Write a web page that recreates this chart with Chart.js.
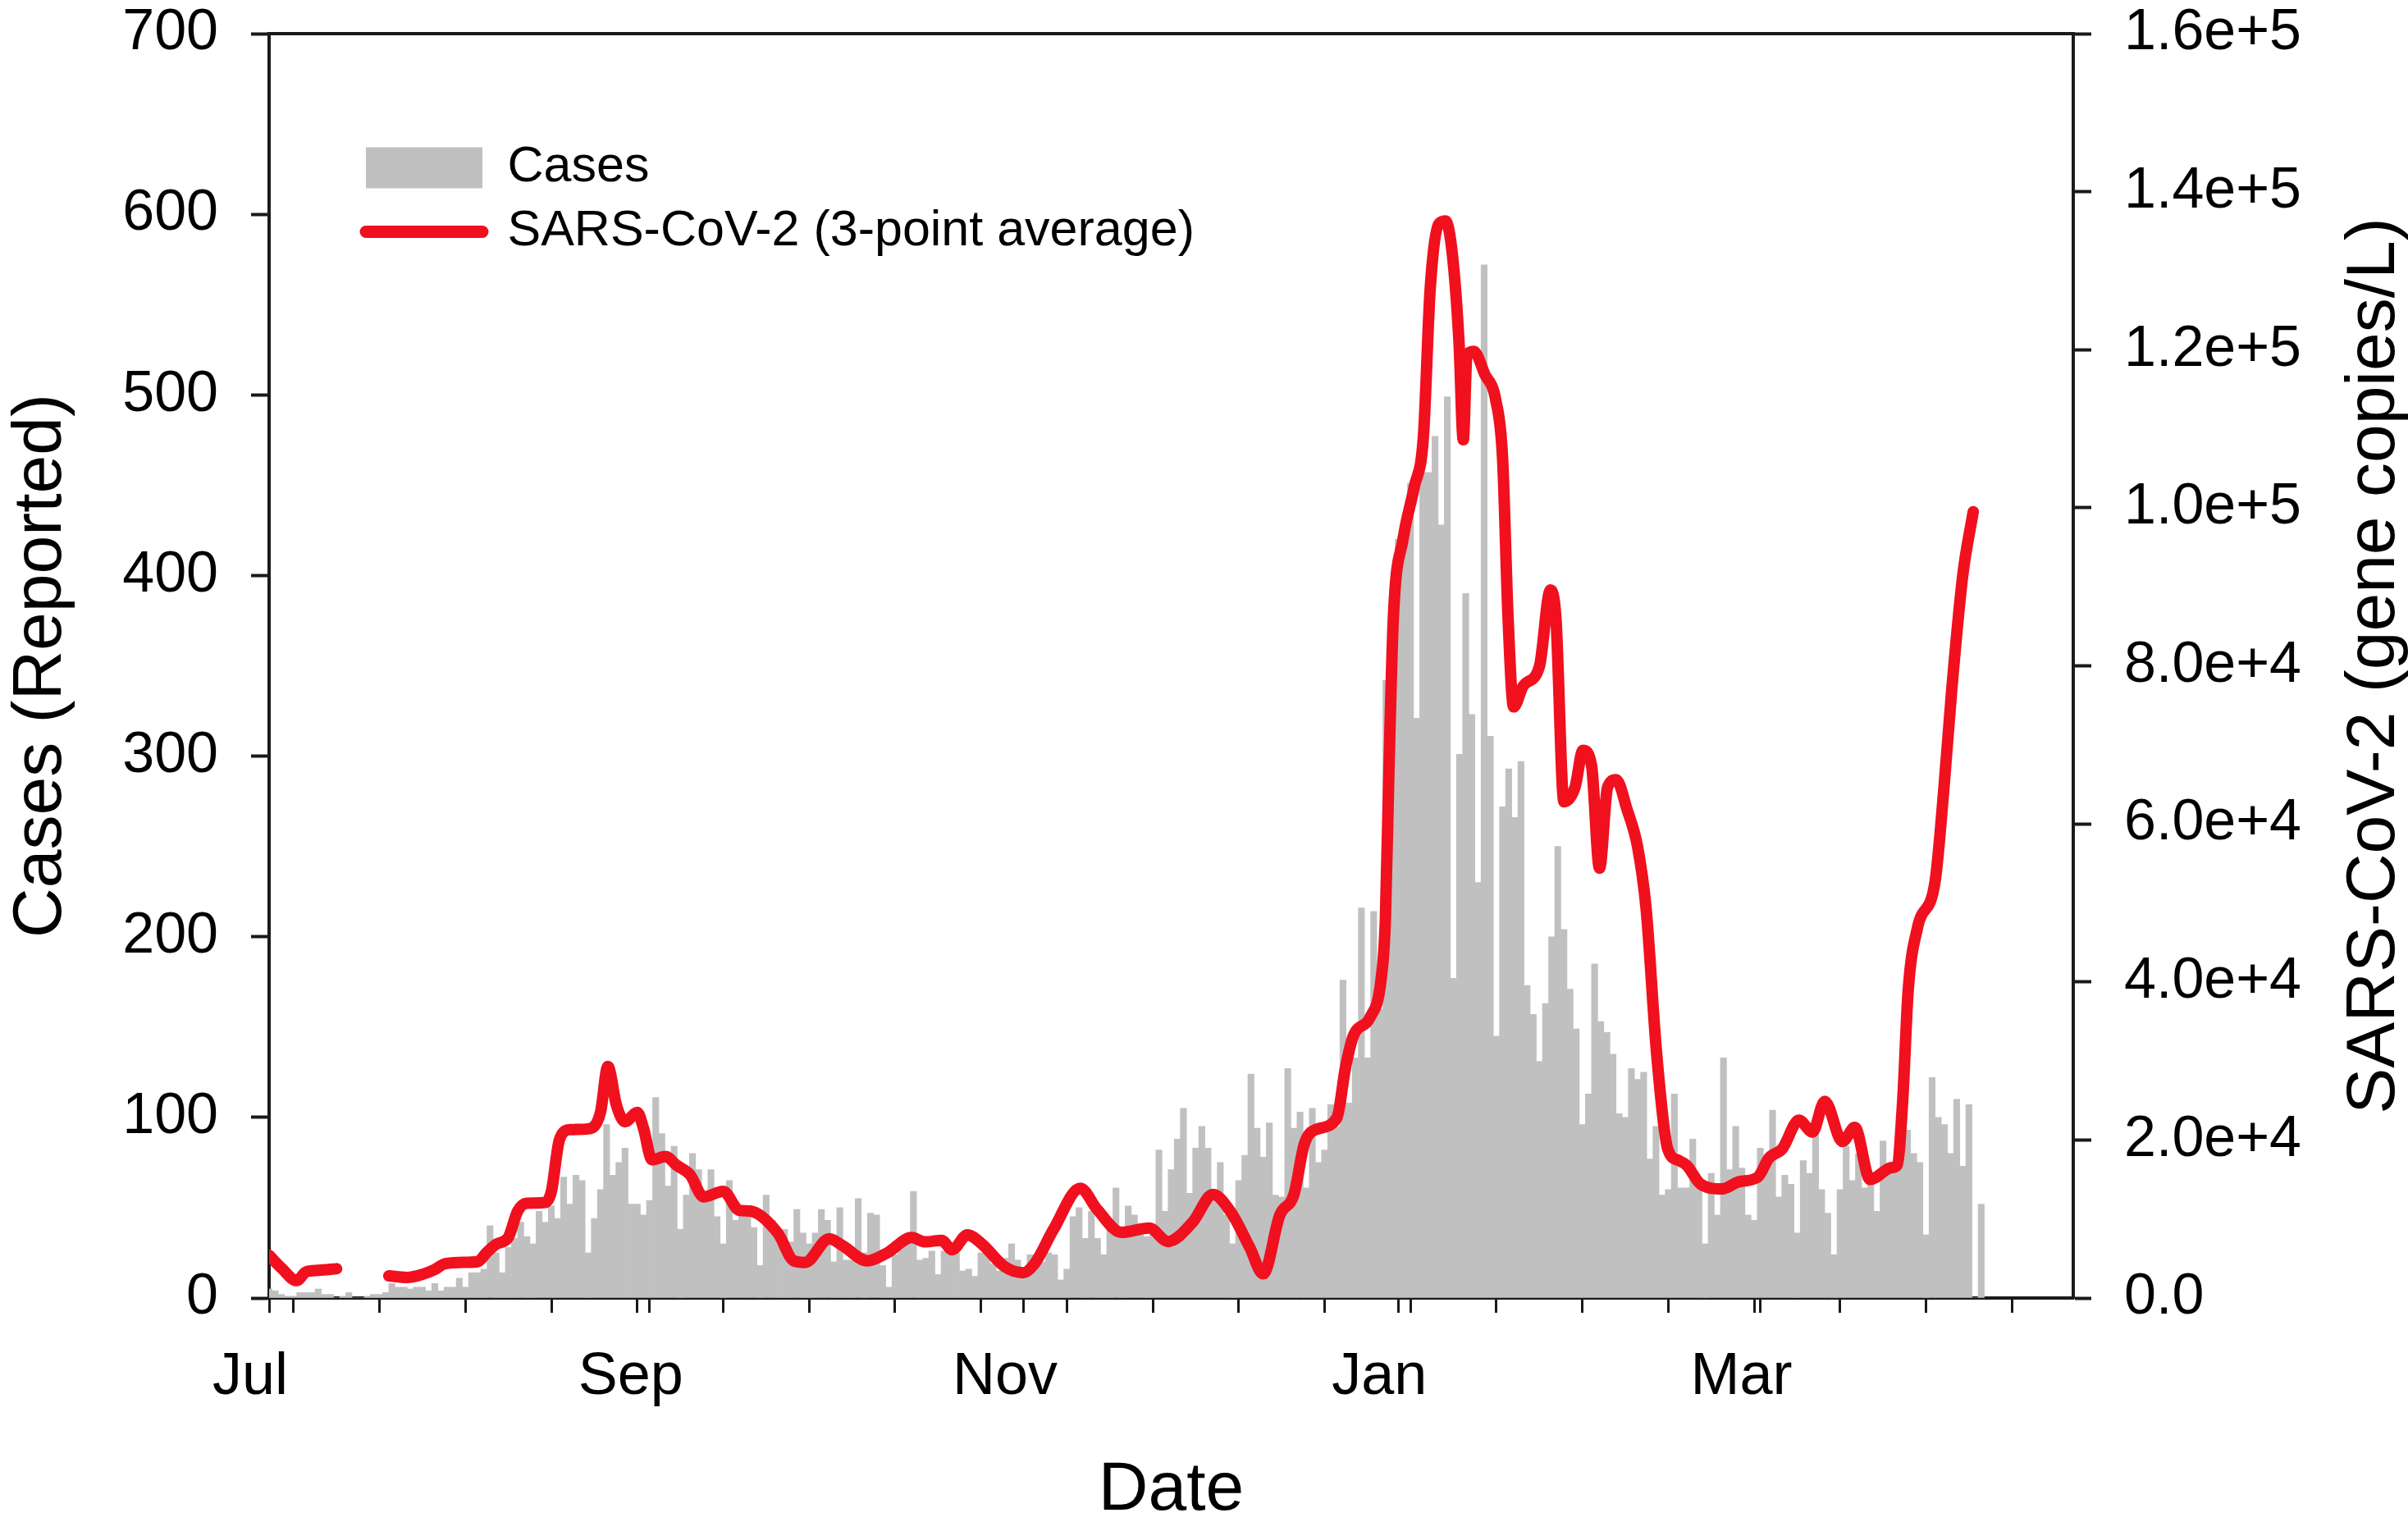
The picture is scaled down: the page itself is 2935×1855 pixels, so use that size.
<!DOCTYPE html>
<html>
<head>
<meta charset="utf-8">
<title>Cases and SARS-CoV-2</title>
<script src="https://cdn.jsdelivr.net/npm/chart.js@4.4.1/dist/chart.umd.min.js"></script>
<style>
  html, body { margin: 0; padding: 0; background: #fff; }
</style>
</head>
<body>
<canvas id="chart" width="2935" height="1855"></canvas>
<script>
// Daily reported cases, one value per day starting Jul 1
const dailyCases = [
  5, 4, 2, 1, 1, 3, 3, 3, 5, 2, 2, 0, 1, 3, 0, 0, 1, 2, 2, 3,
  8, 6, 6, 5, 6, 6, 4, 8, 4, 6, 6, 11, 6, 14, 14, 16, 40, 25, 14, 28,
  33, 42, 34, 30, 48, 42, 51, 44, 67, 52, 68, 65, 25, 44, 60, 96, 68, 75, 83, 52,
  52, 46, 54, 111, 91, 62, 84, 38, 57, 80, 71, 54, 71, 45, 30, 65, 43, 48, 45, 39,
  18, 57, 43, 36, 38, 31, 49, 36, 30, 36, 49, 43, 20, 50, 21, 21, 55, 25, 47, 46,
  18, 6, 24, 30, 33, 59, 21, 22, 26, 13, 26, 24, 25, 15, 16, 12, 25, 24, 19, 15,
  22, 30, 21, 12, 24, 24, 20, 25, 24, 10, 16, 45, 50, 33, 48, 33, 24, 38, 61, 38,
  51, 46, 41, 34, 41, 82, 48, 71, 88, 105, 58, 83, 95, 83, 54, 75, 46, 30, 65, 79,
  124, 94, 78, 97, 57, 56, 127, 94, 103, 61, 105, 75, 82, 107, 95, 176, 108, 133, 216, 133,
  214, 160, 342, 383, 420, 420, 451, 321, 457, 457, 477, 428, 499, 177, 301, 390, 323, 230, 572, 311,
  145, 272, 293, 266, 297, 173, 157, 131, 163, 200, 250, 204, 171, 149, 96, 113, 185, 153, 147, 135,
  102, 100, 127, 121, 125, 77, 95, 57, 60, 113, 61, 61, 88, 61, 30, 69, 46, 133, 71, 95,
  72, 46, 43, 83, 77, 104, 56, 68, 63, 36, 76, 69, 93, 60, 47, 24, 60, 84, 65, 80,
  61, 67, 48, 87, 72, 72, 93, 93, 80, 75, 35, 122, 100, 96, 80, 110, 73, 107, 0, 52
];

// SARS-CoV-2 3-point average (gene copies/L), days since Jul 1; null = no samples
const virusDays = [
  0, 2, 4.5, 6, 8, 11, 15, 19.5, 22.5, 25, 27, 28.5, 31, 34, 35.5, 37, 39, 40.5, 42, 45,
  46, 47.3, 49, 52, 54, 55.2, 56.6, 58, 60, 61, 62.4, 64.6, 66.4, 68.6, 70.8, 74, 76.6, 78.4, 82.9, 85.5,
  87.3, 91.3, 93.5, 97.5, 100.7, 104.7, 106.9, 109.6, 111.3, 113.8, 116.2, 119.8, 122.9, 124.7, 127.8, 132.2, 134.9, 138.9, 143.4, 146.5,
  150.5, 153.8, 156.7, 159.8, 162, 164.7, 167, 168.7, 170.5, 174, 175.4, 176.7, 179.4, 181.2, 181.9, 182.5, 183.2, 184.8, 186.6, 188.1,
  189.2, 190.6, 191.7, 192.8, 193.9, 194.6, 195.2, 196.3, 198.1, 199.9, 201, 201.9, 202.8, 204.4, 207, 208.8, 209.7, 211, 212.8, 214.1,
  215.5, 216.8, 218.1, 219.5, 221.3, 223, 224.4, 226.1, 227.9, 229.7, 231, 233.3, 236.8, 239.5, 242.6, 244.4, 246.6, 249.3, 251.5, 253.5,
  256.4, 258.4, 260.9, 264.4, 265.3, 266.2, 267.1, 268.6, 271.5, 272.9, 274.2, 276, 277.7
];
const virusLevels = [
  5400, 3800, 2200, 3300, 3500, 3700, null, 2800, 2600, 3000, 3600, 4300, 4500, 4600, 5800, 6800, 7700, 11000, 12000, 12100,
  13500, 20000, 21300, 21400, 23500, 29300, 24400, 22300, 23500, 21500, 17500, 17900, 16800, 15600, 12800, 13500, 11100, 11000, 8200, 4700,
  4500, 7500, 6600, 4700, 5700, 7650, 7100, 7300, 6100, 8000, 6800, 4000, 3200, 4300, 8650, 13900, 11250, 8300, 8850, 7150,
  9600, 13100, 10900, 6400, 3050, 10500, 13100, 19500, 21300, 22800, 29150, 33200, 35500, 40300, 47800, 67400, 86000, 96100, 102600, 109000,
  127600, 135900, 136300, 132200, 121000, 108600, 119400, 119800, 116900, 113600, 106300, 86000, 74800, 77500, 79900, 89600, 86000, 62800, 64600, 69300,
  67400, 54400, 64600, 65600, 61800, 57100, 49200, 31000, 18900, 17400, 16800, 14400, 13800, 14700, 15300, 17700, 18900, 22500, 21000, 24900,
  19800, 21600, 15000, 16500, 16800, 24900, 38900, 46800, 52800, 64300, 77000, 91500, 99500
];

// x axis: labelled months and the two-weekly minor ticks
const monthDays = [0, 62, 123, 184, 243];
const monthLabels = ['Jul', 'Sep', 'Nov', 'Jan', 'Mar'];
const minorDays = [4, 18, 32, 46, 60, 74, 88, 102, 116, 130, 144, 158, 172, 186, 200, 214, 228, 242, 256, 270, 284];

const barGray = '#c0c0c0';
const lineRed = '#f0101e';
const axisColor = '#1a1a1a';
const fontFamily = '"Liberation Sans", Arial, sans-serif';

Chart.defaults.font.family = fontFamily;
Chart.defaults.color = '#000';

// outer margins so the plot box lands where it is in the figure
const frame = { left: 328, right: 408, top: 41, bottom: 273 };

const legendShift = {
  id: 'legendShift',
  afterLayout(chart) {
    chart.legend.left = chart.chartArea.left + 101;
    chart.legend.top = chart.chartArea.top + 116;
  }
};

// right title reads bottom-to-top, which the scale title can't do
const rightTitle = {
  id: 'rightTitle',
  afterDraw(chart) {
    const { ctx, chartArea } = chart;
    ctx.save();
    ctx.translate(chart.width - 40, (chartArea.top + chartArea.bottom) / 2);
    ctx.rotate(-Math.PI / 2);
    ctx.font = '84px ' + fontFamily;
    ctx.fillStyle = '#000';
    ctx.textAlign = 'center';
    ctx.textBaseline = 'middle';
    ctx.fillText('SARS-CoV-2 (gene copies/L)', 0, 0);
    ctx.restore();
  }
};

const xTicks = monthDays.concat(minorDays).sort((a, b) => a - b);

function fitVertical(width) {
  return (scale) => {
    scale.width = width;
    scale.paddingTop = 0;
    scale.paddingBottom = 0;
  };
}

function fitHorizontal(height) {
  return (scale) => {
    scale.height = height;
    scale.paddingLeft = 0;
    scale.paddingRight = 0;
  };
}

new Chart(document.getElementById('chart'), {
  type: 'bar',
  data: {
    datasets: [
      {
        type: 'line',
        label: 'SARS-CoV-2 (3-point average)',
        data: virusDays.map((d, i) => ({ x: d, y: virusLevels[i] })),
        borderColor: lineRed,
        borderWidth: 14,
        pointRadius: 0,
        cubicInterpolationMode: 'monotone',
        spanGaps: false,
        borderCapStyle: 'round',
        borderJoinStyle: 'round',
        xAxisID: 'x',
        yAxisID: 'yRight',
        order: 1
      },
      {
        type: 'bar',
        label: 'Cases',
        data: dailyCases.map((v, i) => ({ x: i, y: v })),
        backgroundColor: barGray,
        borderWidth: 0,
        barPercentage: 1,
        categoryPercentage: 1,
        xAxisID: 'x',
        yAxisID: 'y',
        order: 2
      }
    ]
  },
  options: {
    responsive: false,
    animation: false,
    devicePixelRatio: 1,
    layout: { padding: 0 },
    plugins: {
      tooltip: { enabled: false },
      legend: {
        position: 'chartArea',
        align: 'start',
        labels: {
          usePointStyle: true,
          pointStyleWidth: 142,
          boxHeight: 50,
          padding: 17,
          font: { size: 61 },
          color: '#000',
          generateLabels: () => [
            { text: 'Cases', fillStyle: barGray, strokeStyle: barGray, lineWidth: 0, pointStyle: 'rect', fontColor: '#000', datasetIndex: 1 },
            { text: 'SARS-CoV-2 (3-point average)', fillStyle: lineRed, strokeStyle: lineRed, lineWidth: 15, lineCap: 'round', pointStyle: 'line', fontColor: '#000', datasetIndex: 0 }
          ]
        }
      }
    },
    scales: {
      x: {
        type: 'linear',
        position: 'bottom',
        min: 0,
        max: 294,
        offset: false,
        afterBuildTicks: (scale) => { scale.ticks = xTicks.map(v => ({ value: v })); },
        afterFit: fitHorizontal(frame.bottom),
        ticks: {
          autoSkip: false,
          maxRotation: 0,
          font: { size: 72 },
          padding: 36,
          labelOffset: -23,
          callback: (v) => {
            const i = monthDays.indexOf(v);
            return i >= 0 ? monthLabels[i] : '';
          }
        },
        grid: { offset: false, drawOnChartArea: false, tickLength: 18, tickWidth: 3, tickColor: axisColor },
        border: { display: true, color: axisColor, width: 4 },
        title: { display: true, text: 'Date', font: { size: 84, lineHeight: 0.9 }, padding: 0 }
      },
      xTop: {
        type: 'linear',
        position: 'top',
        min: 0,
        max: 294,
        afterFit: fitHorizontal(frame.top),
        ticks: { display: false },
        grid: { drawOnChartArea: false, drawTicks: false },
        border: { display: true, color: axisColor, width: 4 }
      },
      y: {
        position: 'left',
        min: 0,
        max: 700,
        afterFit: fitVertical(frame.left),
        ticks: { stepSize: 100, font: { size: 70 }, padding: 40 },
        grid: { drawOnChartArea: false, tickLength: 22, tickWidth: 4, tickColor: axisColor },
        border: { color: axisColor, width: 4 },
        title: { display: true, text: 'Cases (Reported)', font: { size: 84 }, padding: 0 }
      },
      yRight: {
        position: 'right',
        min: 0,
        max: 160000,
        afterFit: fitVertical(frame.right),
        ticks: {
          stepSize: 20000,
          font: { size: 70 },
          padding: 40,
          callback: (v) => v === 0 ? '0.0' : v.toExponential(1)
        },
        grid: { drawOnChartArea: false, tickLength: 22, tickWidth: 4, tickColor: axisColor },
        border: { color: axisColor, width: 4 }
      }
    }
  },
  plugins: [legendShift, rightTitle]
});
</script>
</body>
</html>
